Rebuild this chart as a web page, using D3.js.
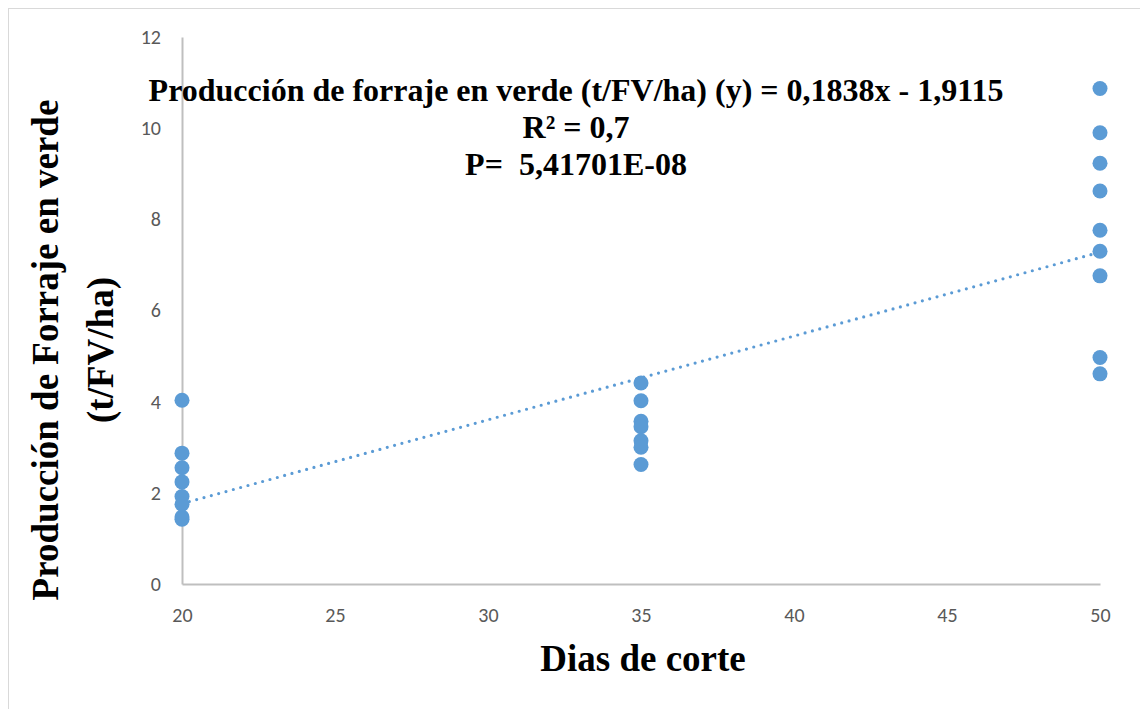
<!DOCTYPE html>
<html>
<head>
<meta charset="utf-8">
<script src="https://cdn.jsdelivr.net/npm/d3@7"></script>
<style>
  html, body { margin: 0; padding: 0; background: #fff; }
  svg { display: block; }
  .serif { font-family: "Times New Roman", "Liberation Serif", Tinos, "DejaVu Serif", serif; font-weight: bold; white-space: pre; }
</style>
</head>
<body>
<svg id="chart" width="1140" height="709"></svg>
<script>
// Cutting interval (days) and green forage yield (t FV/ha) per observation
const dias20 = [4.03, 2.87, 2.55, 2.24, 1.92, 1.75, 1.47, 1.42];
const dias35 = [4.41, 4.02, 3.57, 3.45, 3.14, 3.00, 2.62];
const dias50 = [10.87, 9.90, 9.23, 8.62, 7.76, 7.30, 6.76, 4.97, 4.61];
const grupos = [20, 35, 50];
const xTicks = [20, 25, 30, 35, 40, 45, 50];
const yTicks = [0, 2, 4, 6, 8, 10, 12];

// Linear trend: y = 0,1838x - 1,9115
const pendiente = 0.1838;
const intercepto = -1.9115;
const rotulos = [
  "Producción de forraje en verde (t/FV/ha) (y) = 0,1838x - 1,9115",
  "R² = 0,7",
  "P=  5,41701E-08"
];

const puntos = [];
[dias20, dias35, dias50].forEach((serie, i) => {
  serie.forEach(v => puntos.push({ x: grupos[i], y: v }));
});

const svg = d3.select("#chart");
const azul = "#5b9bd5";

// chart frame
svg.append("rect")
  .attr("x", 8.5).attr("y", 8.5)
  .attr("width", 1160).attr("height", 720)
  .attr("fill", "#fff").attr("stroke", "#d9d9d9").attr("stroke-width", 1);

const x = d3.scaleLinear().domain([20, 50]).range([182, 1100]);
const y = d3.scaleLinear().domain([0, 12]).range([584, 37]);

// axes (no tick marks, gray axis line)
const gx = svg.append("g").attr("transform", `translate(0,${y(0)})`)
  .call(d3.axisBottom(x).tickValues(xTicks).tickSize(0).tickPadding(24));
const gy = svg.append("g").attr("transform", `translate(${x(20)},0)`)
  .call(d3.axisLeft(y).tickValues(yTicks).tickSize(0).tickPadding(21));
[gx, gy].forEach(g => {
  g.select(".domain").attr("stroke", "#bfbfbf").attr("stroke-width", 2);
  g.selectAll("text")
    .attr("fill", "#595959")
    .style("font-family", "Carlito, Lato, 'Open Sans', sans-serif")
    .style("font-size", "20px");
});

// trend line
const linea = d3.line().x(d => x(d)).y(d => y(pendiente * d + intercepto));
svg.append("path")
  .datum([20, 50])
  .attr("d", linea)
  .attr("fill", "none")
  .attr("stroke", azul)
  .attr("stroke-width", 3.2)
  .attr("stroke-linecap", "round")
  .attr("stroke-dasharray", "0 7.6");

// observations
svg.append("g").selectAll("circle")
  .data(puntos)
  .join("circle")
  .attr("cx", d => x(d.x))
  .attr("cy", d => y(d.y))
  .attr("r", 7.5)
  .attr("fill", azul);

// regression label
const etiqueta = svg.append("text")
  .attr("class", "serif")
  .attr("text-anchor", "middle")
  .style("font-size", "32px")
  .attr("fill", "#000");
rotulos.forEach((t, i) => {
  etiqueta.append("tspan").attr("x", 576).attr("y", 101 + i * 37).text(t);
});

// axis titles
svg.append("text")
  .attr("class", "serif")
  .attr("x", 643).attr("y", 671)
  .attr("text-anchor", "middle")
  .style("font-size", "37px")
  .text("Dias de corte");

const yt = svg.append("text")
  .attr("class", "serif")
  .attr("transform", "translate(0,350) rotate(-90)")
  .attr("text-anchor", "middle")
  .style("font-size", "37px");
yt.append("tspan").attr("x", 0).attr("y", 58).text("Producción de Forraje en verde");
yt.append("tspan").attr("x", 0).attr("y", 113).text("(t/FV/ha)");
</script>
</body>
</html>
